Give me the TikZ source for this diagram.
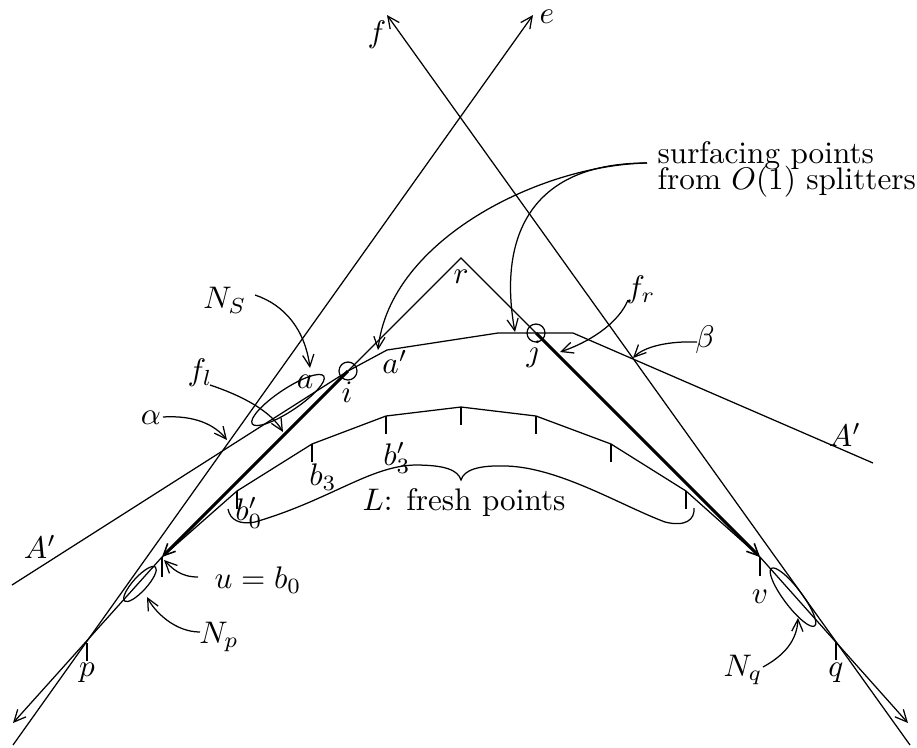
\documentclass[tikz,border=0pt]{standalone}
\usetikzlibrary{arrows.meta}
\begin{document}
\begin{tikzpicture}[x=0.3205pt,y=-0.3205pt,>={Straight Barb[length=3.8pt,width=3.6pt]},line width=0.4pt,
  thickline/.style={line width=0.95pt,-{Straight Barb[length=3.8pt,width=3.6pt,line width=0.5pt]}},
  lbl/.style={inner sep=0pt},
  tick/.style={line width=0.4pt}]
\useasboundingbox (0,0) rectangle (917,747);
% key points
\coordinate (eS) at (13,745);
\coordinate (eT) at (533,15);
\coordinate (fS) at (910,745);
\coordinate (fT) at (387,15);
\coordinate (r) at (461,258);
\coordinate (i) at (348,371);
\coordinate (j) at (536,333);
\coordinate (u) at (162,557);
\coordinate (v) at (760,557);
\coordinate (p) at (87,643);
\coordinate (q) at (836,642);
\coordinate (pend) at (13,723);
\coordinate (qend) at (908,723);
% A' polyline
\coordinate (A1) at (12,585);
\coordinate (ak) at (387,350);
\coordinate (A3) at (498,333);
\coordinate (A4) at (573,333);
\coordinate (A5) at (873,463);
% L polyline
\coordinate (b0p) at (237,491);
\coordinate (b3) at (312,444);
\coordinate (b3p) at (386,416);
\coordinate (Lm) at (461,407);
\coordinate (L5) at (536,416);
\coordinate (L6) at (611,444);
\coordinate (L7) at (686,491);

% long lines e and f
\draw[->] (eS) -- (eT);
\draw[->] (fS) -- (fT);
% roof through r
\draw (i) -- (r) -- (j);
\draw[thickline] (i) -- (u);
\draw[thickline] (j) -- (v);
\draw[->] (u) -- (pend);
\draw[->] (v) -- (qend);
% A' polyline
\draw (A1) -- (i) -- (ak) -- (A3) -- (A4) -- (A5);
% L polyline
\draw (u) -- (b0p) -- (b3) -- (b3p) -- (Lm) -- (L5) -- (L6) -- (L7) -- (v);
% ticks
\foreach \c in {b0p,b3,b3p,Lm,L5,L6,L7,p,q}
  \draw[tick] (\c) -- ++(0,18);
\draw[tick] (u) -- ++(0,20);
\draw[tick] (v) -- ++(0,19);
% circles
\draw (i) circle [radius=9];
\draw (j) circle [radius=9];
% ellipses
\coordinate (ea) at (288,400);
\coordinate (enp) at (140,584);
\coordinate (enq) at (793,597);
\draw[rotate around={33.7:(ea)}] (ea) ellipse [x radius=43, y radius=11];
\draw[rotate around={47.7:(enp)}] (enp) ellipse [x radius=23, y radius=7];
\draw[rotate around={-53:(enq)}] (enq) ellipse [x radius=36, y radius=9];
% brace under L
\coordinate (brL) at (228,509);
\coordinate (brC) at (461,480);
\coordinate (brR) at (694,508);
\draw (brL) .. controls (230,520) and (240,525) .. (255,522)
  .. controls (330,500) and (370,466) .. (415,465)
  .. controls (445,465) and (458,470) .. (brC)
  .. controls (464,470) and (478,465) .. (507,466)
  .. controls (560,468) and (620,505) .. (665,522)
  .. controls (685,527) and (695,520) .. (brR);

% labels
\node[lbl] (lf) at (377,35) {$f$};
\node[lbl] (le) at (547,17) {$e$};
\node[lbl,anchor=base west] (surf1) at (657,163) {surfacing points};
\node[lbl,anchor=base west] (surf2) at (657,189) {from $O(1)$ splitters};
\node[lbl] (lNS) at (225,300) {$N_S$};
\node[lbl] (lr) at (461,277) {$r$};
\node[lbl] (lfr) at (641,290) {$f_r$};
\node[lbl] (la) at (305,382) {$a$};
\node[lbl] (li) at (347,392) {$i$};
\node[lbl] (lj) at (534,354) {$j$};
\node[lbl] (lap) at (395,362) {$a'$};
\node[lbl] (lfl) at (200,373) {$f_l$};
\node[lbl] (lal) at (151,418) {$\alpha$};
\node[lbl] (lbe) at (705,340) {$\beta$};
\node[lbl] (lAr) at (845,435) {$A'$};
\node[lbl] (lAl) at (40,547) {$A'$};
\node[lbl] (lb3) at (323,477) {$b_3$};
\node[lbl] (lb3p) at (397,458) {$b'_3$};
\node[lbl] (lb0p) at (249,513) {$b'_0$};
\node[lbl] (lL) at (464,503) {$L$: fresh points};
\node[lbl] (lu) at (258,580) {$u=b_0$};
\node[lbl] (lNp) at (219,637) {$N_p$};
\node[lbl] (lp) at (87,673) {$p$};
\node[lbl] (lq) at (836,673) {$q$};
\node[lbl] (lv) at (760,597) {$v$};
\node[lbl] (lNq) at (743,670) {$N_q$};

% label arrows
\coordinate (s0) at (647,163);
\coordinate (s1) at (378,350);
\coordinate (s2) at (515,332);
\draw[->] (s0) .. controls (540,165) and (390,240) .. (s1);
\draw[->] (s0) .. controls (520,163) and (500,250) .. (s2);
\coordinate (ns0) at (255,295);
\coordinate (ns1) at (310,368);
\draw[->] (ns0) .. controls (285,305) and (305,330) .. (ns1);
\coordinate (fl0) at (210,385);
\coordinate (fl1) at (283,432);
\draw[->] (fl0) .. controls (240,395) and (270,410) .. (fl1);
\coordinate (al0) at (163,417);
\coordinate (al1) at (227,440);
\draw[->] (al0) .. controls (195,415) and (215,425) .. (al1);
\coordinate (be0) at (697,342);
\coordinate (be1) at (633,358);
\draw[->] (be0) .. controls (670,341) and (645,346) .. (be1);
\coordinate (fr0) at (628,300);
\coordinate (fr1) at (560,352);
\draw[->] (fr0) .. controls (620,320) and (595,340) .. (fr1);
\coordinate (np0) at (200,632);
\coordinate (np1) at (147,597);
\draw[->] (np0) .. controls (175,632) and (155,612) .. (np1);
\coordinate (u0) at (198,577);
\coordinate (u1) at (164,560);
\draw[->] (u0) .. controls (180,577) and (172,568) .. (u1);
\coordinate (nq0) at (763,667);
\coordinate (nq1) at (798,618);
\draw[->] (nq0) .. controls (785,655) and (797,640) .. (nq1);
\end{tikzpicture}
\end{document}
